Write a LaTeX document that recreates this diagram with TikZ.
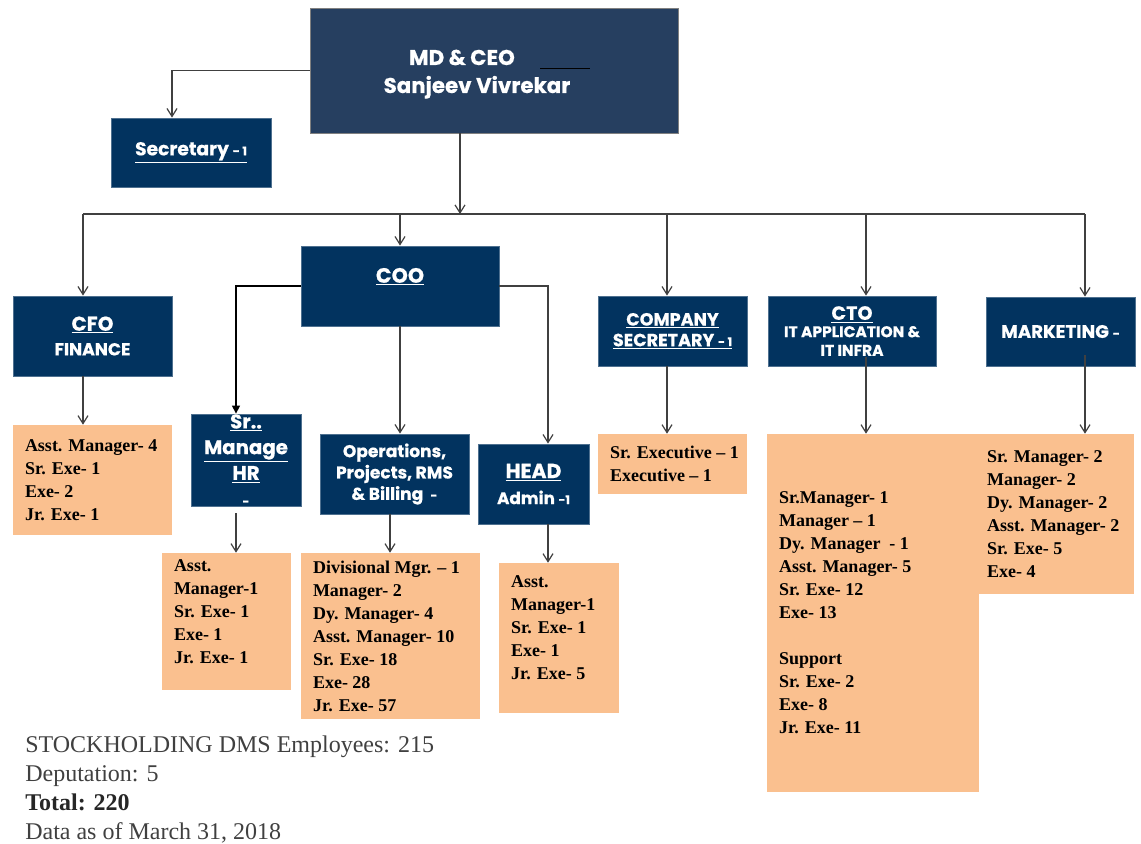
\documentclass[tikz,border=0pt]{standalone}
\usepackage{fontspec}
\setmainfont{Liberation Serif}
\newfontfamily\gfont[BoldFeatures={FakeBold=0.6}]{Poppins}
\usetikzlibrary{arrows.meta,calc}
\definecolor{navy}{HTML}{02335F}
\definecolor{slate}{HTML}{263F60}
\definecolor{tan}{HTML}{FAC08F}
\definecolor{ink}{HTML}{404040}
\newcommand\bfg[2]{\gfont\bfseries\fontsize{#1}{#2}\selectfont}
\newcommand\sm[1]{{\fontsize{9}{10}\selectfont #1}}
\begin{document}
\begin{tikzpicture}[x=0.75pt,y=-0.75pt,
  bluebox/.style={fill=navy, draw=navy!70!white, line width=0.6pt, text=white,
    align=center, inner sep=0pt},
  listbox/.style={fill=tan, draw=none, inner sep=0pt},
  listtext/.style={align=left, inner sep=0pt, text=black,
    font=\fontsize{13.5}{17.25}\selectfont\bfseries},
  arr/.style={draw=ink, line width=0.9pt, -{Straight Barb[length=6pt,width=7.5pt]}},
  arrb/.style={draw=black, line width=1pt, -{Triangle[length=6pt,width=6pt]}},
  link/.style={draw=ink, line width=0.9pt}]
\useasboundingbox (0,0) rectangle (1141,843);

% top level
\node[bluebox, fill=slate, draw=gray, minimum width=276pt, minimum height=93.75pt,
  font=\bfg{16}{21}] (ceo) at (494,70.5)
  {\rule{0pt}{17pt}MD \& CEO\hspace*{48pt}\\Sanjeev Vivrekar\hspace*{25.5pt}};
\draw[black, line width=1pt] (540,68.5) -- (590,68.5);
\node[bluebox, minimum width=120pt, minimum height=51.75pt, font=\bfg{14}{16}] (sec)
  at (191,152.5) {\underline{Secretary \sm{- 1}}};

% second level
\node[bluebox, minimum width=119.25pt, minimum height=60pt, font=\bfg{15}{18.5}] (cfo)
  at (92.5,336) {\underline{CFO}\\{\fontsize{13}{13}\selectfont FINANCE}};
\node[bluebox, minimum width=148.5pt, minimum height=60pt, font=\bfg{15.5}{16}] (coo)
  at (400,286) {\underline{COO}\\\mbox{}};
\node[bluebox, minimum width=111.75pt, minimum height=52.5pt, font=\bfg{13.2}{15.5}] (cs)
  at (672.5,331) {\underline{COMPANY}\\\underline{SECRETARY \sm{- 1}}};
\node[bluebox, minimum width=126pt, minimum height=52.5pt, font=\bfg{14.4}{16}] (cto)
  at (852,331) {\underline{CTO}\\[-3pt]{\fontsize{11.6}{14}\selectfont IT APPLICATION \&}\\[-2pt]{\fontsize{11.6}{14}\selectfont IT INFRA}};
\node[bluebox, minimum width=111.75pt, minimum height=51.75pt, font=\bfg{13.6}{14}] (mkt)
  at (1060.5,331.5) {MARKETING \sm{-}};

% COO reports
\node[bluebox, minimum width=82.5pt, minimum height=69pt, font=\bfg{14.8}{19.3}] (hr)
  at (246,460) {\underline{Sr..}\\\underline{Manage}\\\underline{HR}\\\sm{-}};
\node[bluebox, minimum width=111.75pt, minimum height=60pt, font=\bfg{12.8}{16}] (ops)
  at (394.5,474) {Operations,\\Projects, RMS\\\& Billing~~\sm{-}};
\node[bluebox, minimum width=83.25pt, minimum height=60pt, font=\bfg{15.3}{19.5}] (adm)
  at (533.5,484) {\underline{HEAD}\\{\fontsize{12.6}{13}\selectfont Admin \sm{-1}}};

% staff lists
\node[listbox, minimum width=119.25pt, minimum height=82.5pt] (cfol) at (92.5,480) {};
\node[listtext, anchor=west] (cfolt) at ([xshift=9pt]cfol.west)
  {Asst. Manager- 4\\Sr. Exe- 1\\Exe- 2\\Jr. Exe- 1};
\node[listbox, minimum width=96.75pt, minimum height=102.75pt] (hrl) at (226.5,621.5) {};
\node[listtext, anchor=west] (hrlt) at ($(hrl.west)+(12,-10)$)
  {Asst.\\Manager-1\\Sr. Exe- 1\\Exe- 1\\Jr. Exe- 1};
\node[listbox, minimum width=134.25pt, minimum height=124.5pt] (opsl) at (390.5,636) {};
\node[listtext, anchor=west] (opslt) at ([xshift=9pt]opsl.west)
  {Divisional Mgr. -- 1\\Manager- 2\\Dy. Manager- 4\\Asst. Manager- 10\\Sr. Exe- 18\\Exe- 28\\Jr. Exe- 57};
\node[listbox, minimum width=90pt, minimum height=112.5pt] (adml) at (559,638) {};
\node[listtext, anchor=west] (admlt) at ($(adml.west)+(12,-10)$)
  {Asst.\\Manager-1\\Sr. Exe- 1\\Exe- 1\\Jr. Exe- 5};
\node[listbox, minimum width=111.75pt, minimum height=45pt] (csl) at (672.5,464) {};
\node[listtext, anchor=west] (cslt) at ([xshift=9pt]csl.west)
  {Sr. Executive -- 1\\Executive -- 1};
\node[listbox, minimum width=159pt, minimum height=268.5pt] (ctol) at (873,613) {};
\node[listtext, anchor=west] (ctolt) at ([xshift=9pt]ctol.west)
  {Sr.Manager- 1\\Manager -- 1\\Dy. Manager~ - 1\\Asst. Manager- 5\\Sr. Exe- 12\\Exe- 13\\[17.25pt]Support\\Sr. Exe- 2\\Exe- 8\\Jr. Exe- 11};
\node[listbox, minimum width=119.25pt, minimum height=120pt] (mktl) at (1054.5,514) {};
\node[listtext, anchor=west] (mktlt) at ([xshift=9pt]mktl.west)
  {Sr. Manager- 2\\Manager- 2\\Dy. Manager- 2\\Asst. Manager- 2\\Sr. Exe- 5\\Exe- 4};

% totals
\node[anchor=north west, align=left, inner sep=0pt, text=ink,
  font=\fontsize{18}{21.75}\selectfont] (foot) at (25,736)
  {STOCKHOLDING DMS Employees: 215\\Deputation: 5\\\textcolor{black!85}{\textbf{Total: 220}}\\Data as of March 31, 2018};

% connectors
\coordinate (busL) at (83,214);
\coordinate (busR) at (1085,214);
\coordinate (busC) at (460,214);
\coordinate (bCOO) at (400,214);
\coordinate (bCS) at (667,214);
\coordinate (bCTO) at (866,214);
\coordinate (xSec) at (172,0);
\coordinate (xHR) at (236,0);
\coordinate (xOps) at (390,0);
\coordinate (xAdm) at (548,0);

\draw[arr] (ceo.west) -| (sec.north -| xSec);
\draw[arr] (ceo.south -| busC) -- (busC);
\draw[link] (busL) -- (busR);
\draw[arr] (busL) -- (busL |- cfo.north);
\draw[arr] (bCOO) -- (coo.north);
\draw[arr] (bCS) -- (bCS |- cs.north);
\draw[arr] (bCTO) -- (bCTO |- cto.north);
\draw[arr] (busR) -- (busR |- mkt.north);

\draw[arr] (cfo.south -| busL) -- (cfol.north -| busL);
\draw[arr] (cs.south -| bCS) -- (csl.north -| bCS);
\draw[arr] ($(cto.south -| bCTO)+(0,-9)$) -- (ctol.north -| bCTO);
\draw[arr] ($(mkt.south -| busR)+(0,-11)$) -- (mktl.north -| busR);

\draw[arrb] (coo.west) -| (hr.north -| xHR);
\draw[arr] (coo.south) -- (coo.south |- ops.north);
\draw[arr] (coo.east) -| (adm.north -| xAdm);
\draw[arr] ($(hr.south -| xHR)+(0,7)$) -- (hrl.north -| xHR);
\draw[arr] (ops.south -| xOps) -- (opsl.north -| xOps);
\draw[arr] (adm.south -| xAdm) -- (adml.north -| xAdm);
\end{tikzpicture}
\end{document}
